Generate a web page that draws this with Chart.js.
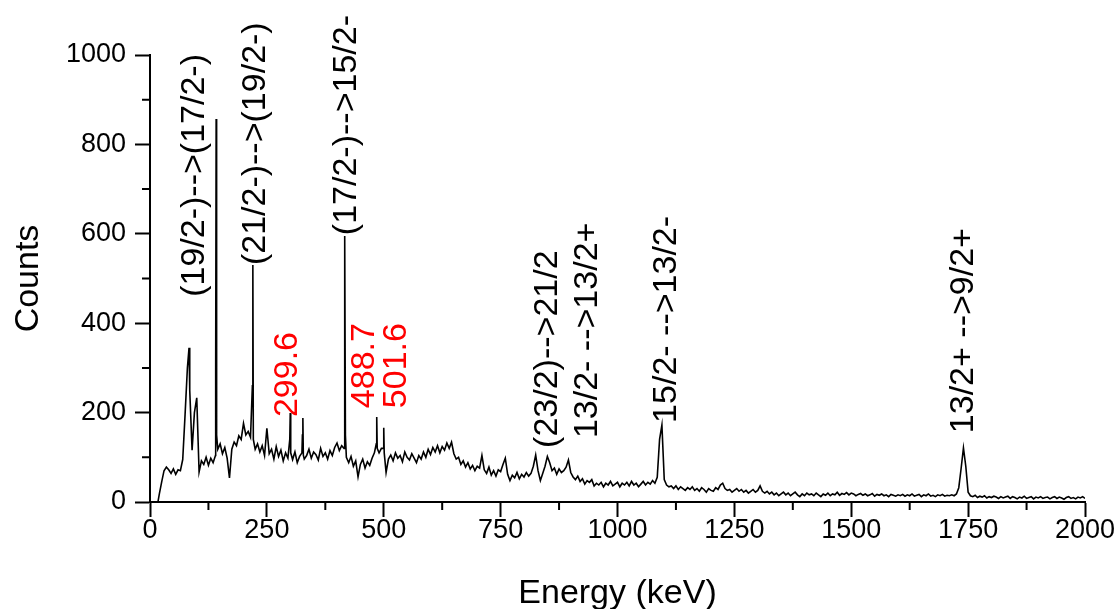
<!DOCTYPE html>
<html>
<head>
<meta charset="utf-8">
<script src="https://cdn.jsdelivr.net/npm/chart.js@4"></script>
<style>
  body { margin: 0; background: #fff; }
  #wrap { width: 1117px; height: 609px; }
</style>
</head>
<body>
<div id="wrap"><canvas id="chart" width="1117" height="609"></canvas></div>
<script>
// Spectrum: counts on a 5 keV grid starting at 20 keV
const gridStartKeV = 20;
const gridStepKeV = 5;
const counts = [
  18, 45, 70, 78, 72, 64, 74, 62, 72, 70, 95, 195, 300, 250, 116, 200, 233, 67, 92, 84,
  100, 82, 98, 88, 104, 118, 130, 108, 122, 98, 54, 118, 134, 126, 148, 140, 176, 150, 158, 145,
  530, 118, 130, 112, 126, 104, 165, 108, 118, 96, 124, 102, 116, 92, 110, 98, 199, 95, 112, 88,
  102, 110, 96, 104, 118, 98, 112, 106, 94, 120, 102, 110, 96, 115, 104, 122, 132, 115, 126, 120,
  100, 88, 102, 80, 92, 56, 84, 96, 76, 90, 82, 98, 110, 190, 110, 120, 166, 66, 96, 105,
  92, 110, 98, 104, 90, 112, 100, 94, 108, 98, 88, 104, 96, 112, 100, 118, 106, 122, 112, 126,
  110, 124, 116, 132, 120, 134, 108, 96, 100, 84, 92, 78, 88, 74, 82, 70, 80, 76, 104, 72,
  64, 78, 60, 70, 58, 72, 68, 84, 98, 62, 48, 60, 54, 66, 52, 62, 56, 66, 58, 64,
  80, 105, 70, 48, 64, 80, 102, 88, 70, 76, 62, 74, 66, 70, 78, 94, 66, 56, 50, 58,
  46, 52, 40, 48, 44, 50, 36, 42, 38, 44, 34, 42, 38, 46, 36, 40, 44, 34, 42, 38,
  44, 36, 46, 38, 42, 34, 40, 46, 38, 44, 40, 48, 42, 55, 140, 172, 50, 38, 34, 36,
  30, 36, 28, 34, 30, 26, 32, 28, 34, 26, 30, 24, 32, 28, 22, 30, 26, 24, 32, 28,
  38, 42, 30, 26, 28, 22, 26, 30, 24, 28, 22, 26, 20, 24, 28, 22, 26, 36, 24, 20,
  24, 18, 22, 16, 20, 14, 18, 22, 16, 20, 14, 18, 22, 16, 12, 18, 14, 20, 16, 18,
  14, 20, 16, 12, 18, 15, 20, 14, 18, 16, 22, 15, 19, 17, 21, 16, 20, 18, 14, 17,
  19, 15, 18, 14, 16, 19, 13, 17, 15, 18, 14, 16, 12, 17, 15, 13, 16, 14, 17, 13,
  16, 14, 18, 13, 15, 17, 12, 16, 14, 18, 13, 15, 12, 16, 14, 17, 13, 15, 14, 16,
  14, 18, 32, 75, 121, 80, 22, 14, 12, 15, 10, 13, 11, 14, 9, 12, 10, 13, 11, 8,
  12, 9, 11, 13, 8, 12, 10, 7, 11, 9, 13, 8, 10, 12, 7, 11, 9, 12, 8, 10,
  11, 7, 10, 12, 8, 11, 9, 6, 10, 12, 8, 10, 7, 11, 9, 12, 8, 10, 7, 9
];

// Narrow lines that fall between grid channels
const lineKeV    = [17, 83.5, 140.5, 141.5, 142.5, 219, 221, 299, 301, 326, 327, 328, 416, 417, 418, 484, 486, 499, 501];
const lineCounts = [0, 345, 300, 857, 150, 260, 140, 140, 110, 150, 188, 105, 200, 595, 150, 130, 120, 120, 110];

// Axis ticks
const xTicks = [0, 250, 500, 750, 1000, 1250, 1500, 1750, 2000];
const yTicks = [0, 200, 400, 600, 800, 1000];

// Transition labels
const labelText  = ["(19/2-)-->(17/2-)", "(21/2-)-->(19/2-)", "(17/2-)-->15/2-", "(23/2)-->21/2",
                    "13/2- -->13/2+", "15/2- -->13/2-", "13/2+ -->9/2+", "299.6", "488.7", "501.6"];
const labelKeV   = [96, 225, 421, 851, 937, 1106, 1741, 295, 460, 528];
const labelCount = [459, 530, 597, 121, 143, 177, 154, 190, 210, 210];
const labelColor = ["#000", "#000", "#000", "#000", "#000", "#000", "#000", "#ff0000", "#ff0000", "#ff0000"];

const FONT = "'Liberation Sans', Arial, sans-serif";

const points = counts.map((c, i) => ({ x: gridStartKeV + i * gridStepKeV, y: c }))
  .concat(lineKeV.map((e, i) => ({ x: e, y: lineCounts[i] })))
  .sort((a, b) => a.x - b.x);

// minor ticks (shorter) and the rotated labels
const extras = {
  id: "extras",
  afterDraw(chart) {
    const { ctx, scales: { x, y } } = chart;
    ctx.save();
    ctx.strokeStyle = "#000";
    ctx.lineWidth = 2;
    ctx.beginPath();
    for (let i = 0; i < xTicks.length - 1; i++) {
      const px = x.getPixelForValue((xTicks[i] + xTicks[i + 1]) / 2);
      ctx.moveTo(px, y.bottom);
      ctx.lineTo(px, y.bottom + 8);
    }
    for (let i = 0; i < yTicks.length - 1; i++) {
      const py = y.getPixelForValue((yTicks[i] + yTicks[i + 1]) / 2);
      ctx.moveTo(x.left, py);
      ctx.lineTo(x.left - 8, py);
    }
    ctx.stroke();

    ctx.font = "34px " + FONT;
    ctx.textAlign = "left";
    ctx.textBaseline = "middle";
    labelText.forEach((t, i) => {
      ctx.save();
      ctx.translate(x.getPixelForValue(labelKeV[i]), y.getPixelForValue(labelCount[i]));
      ctx.rotate(-Math.PI / 2);
      ctx.fillStyle = labelColor[i];
      ctx.fillText(t, 0, 0);
      ctx.restore();
    });
    ctx.restore();
  }
};

new Chart(document.getElementById("chart"), {
  type: "line",
  data: {
    datasets: [{
      data: points,
      borderColor: "#000",
      borderWidth: 1.6,
      pointRadius: 0,
      tension: 0,
      fill: false
    }]
  },
  options: {
    responsive: false,
    animation: false,
    layout: { padding: { top: 55, right: 32, left: 0, bottom: 0 } },
    plugins: { legend: { display: false }, tooltip: { enabled: false } },
    scales: {
      x: {
        type: "linear",
        min: 0,
        max: 2000,
        afterBuildTicks: s => { s.ticks = xTicks.map(v => ({ value: v })); },
        afterFit: s => { s.height = 107; },
        border: { color: "#000", width: 2 },
        grid: { drawOnChartArea: false, tickLength: 15, tickWidth: 2, tickColor: "#000" },
        ticks: { color: "#000", padding: -3, maxRotation: 0, font: { family: FONT, size: 27 }, callback: v => String(v) },
        title: { display: true, text: "Energy (keV)", color: "#000", padding: { top: 0, bottom: -5 }, font: { family: FONT, size: 34 } }
      },
      y: {
        min: 0,
        max: 1000,
        afterBuildTicks: s => { s.ticks = yTicks.map(v => ({ value: v })); },
        afterFit: s => { s.width = 150; },
        border: { color: "#000", width: 2 },
        grid: { drawOnChartArea: false, tickLength: 15, tickWidth: 2, tickColor: "#000" },
        ticks: { color: "#000", padding: 9, font: { family: FONT, size: 27 }, callback: v => String(v) },
        title: { display: true, text: "Counts", color: "#000", padding: { top: 8, bottom: 0 }, font: { family: FONT, size: 34 } }
      }
    }
  },
  plugins: [extras]
});
</script>
</body>
</html>
